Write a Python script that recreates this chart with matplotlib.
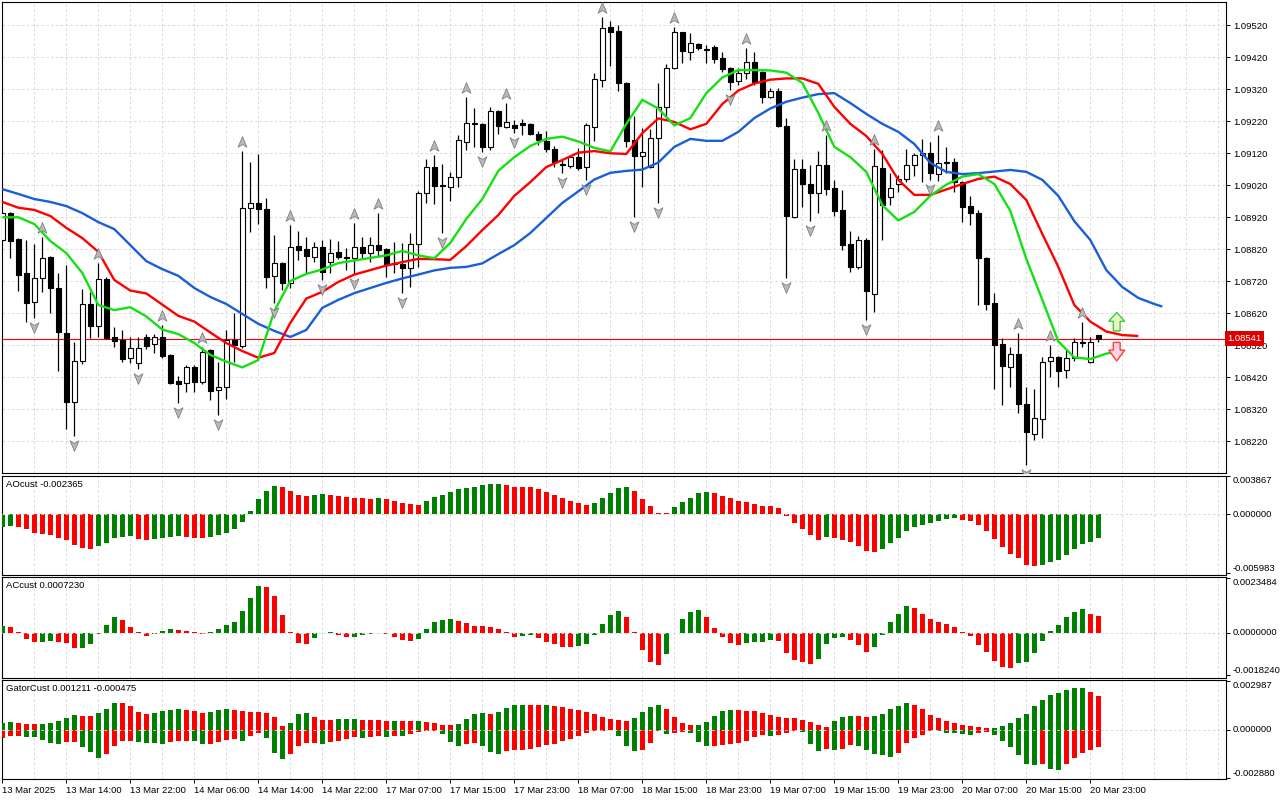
import numpy as np
import matplotlib
matplotlib.use("Agg")
import matplotlib.pyplot as plt
from matplotlib.path import Path
from matplotlib.patches import FancyArrow
from matplotlib.transforms import offset_copy, blended_transform_factory

plt.rcParams['font.family'] = ['Liberation Sans', 'DejaVu Sans']

# ---------------------------------------------------------------- data
time_labels = ['13 Mar 2025', '13 Mar 14:00', '13 Mar 22:00', '14 Mar 06:00', '14 Mar 14:00',
               '14 Mar 22:00', '17 Mar 07:00', '17 Mar 15:00', '17 Mar 23:00', '18 Mar 07:00',
               '18 Mar 15:00', '18 Mar 23:00', '19 Mar 07:00', '19 Mar 15:00', '19 Mar 23:00',
               '20 Mar 07:00', '20 Mar 15:00', '20 Mar 23:00']
label_bars = list(range(0, 137, 8))

price_ticks = [1.08220, 1.08320, 1.08420, 1.08520, 1.08620, 1.08720, 1.08820,
               1.08920, 1.09020, 1.09120, 1.09220, 1.09320, 1.09420, 1.09520]
last_price = 1.08541

open_ = [1.08849, 1.08933, 1.08852, 1.08746, 1.08655, 1.08730, 1.08796, 1.08699, 1.08558, 1.08343,
         1.08471, 1.08649, 1.08580, 1.08727, 1.08546, 1.08537, 1.08480, 1.08465, 1.08546, 1.08524,
         1.08546, 1.08490, 1.08408, 1.08402, 1.08452, 1.08405, 1.08505, 1.08380, 1.08390, 1.08537,
         1.08518, 1.08949, 1.08965, 1.08946, 1.08737, 1.08777, 1.08715, 1.08830, 1.08821, 1.08796,
         1.08827, 1.08780, 1.08812, 1.08796, 1.08793, 1.08827, 1.08808, 1.08833, 1.08821, 1.08777,
         1.08774, 1.08762, 1.08837, 1.08996, 1.09077, 1.09021, 1.09015, 1.09046, 1.09155, 1.09215,
         1.09212, 1.09140, 1.09252, 1.09202, 1.09208, 1.09215, 1.09212, 1.09180, 1.09158, 1.09133,
         1.09087, 1.09080, 1.09108, 1.09077, 1.09202, 1.09349, 1.09515, 1.09502, 1.09340, 1.09162,
         1.09112, 1.09077, 1.09168, 1.09265, 1.09387, 1.09499, 1.09437, 1.09462, 1.09446, 1.09452,
         1.09418, 1.09387, 1.09346, 1.09371, 1.09405, 1.09374, 1.09296, 1.09315, 1.09205, 1.08921,
         1.09071, 1.09024, 1.08996, 1.09083, 1.09012, 1.08943, 1.08837, 1.08765, 1.08849, 1.08680,
         1.09074, 1.08983, 1.09024, 1.09040, 1.09083, 1.09115, 1.09121, 1.09055, 1.09090, 1.09093,
         1.09030, 1.08955, 1.08933, 1.08793, 1.08652, 1.08524, 1.08452, 1.08493, 1.08337, 1.08243,
         1.08290, 1.08471, 1.08483, 1.08443, 1.08480, 1.08530, 1.08468, 1.08551]
high = [1.08937, 1.08937, 1.08855, 1.08849, 1.08837, 1.08858, 1.08799, 1.08746, 1.08771, 1.08530,
        1.08696, 1.08687, 1.08777, 1.08733, 1.08577, 1.08568, 1.08546, 1.08546, 1.08555, 1.08555,
        1.08583, 1.08493, 1.08424, 1.08458, 1.08458, 1.08515, 1.08508, 1.08468, 1.08568, 1.08621,
        1.09127, 1.09093, 1.09118, 1.08980, 1.08865, 1.08780, 1.08896, 1.08877, 1.08858, 1.08843,
        1.08849, 1.08852, 1.08846, 1.08824, 1.08902, 1.08858, 1.08858, 1.08933, 1.08824, 1.08843,
        1.08840, 1.08871, 1.09002, 1.09102, 1.09115, 1.09087, 1.09062, 1.09177, 1.09296, 1.09262,
        1.09215, 1.09265, 1.09255, 1.09277, 1.09224, 1.09227, 1.09215, 1.09190, 1.09190, 1.09143,
        1.09102, 1.09115, 1.09137, 1.09215, 1.09371, 1.09546, 1.09533, 1.09521, 1.09343, 1.09237,
        1.09199, 1.09196, 1.09340, 1.09399, 1.09515, 1.09499, 1.09496, 1.09465, 1.09458, 1.09458,
        1.09437, 1.09390, 1.09387, 1.09449, 1.09437, 1.09377, 1.09324, 1.09324, 1.09230, 1.09102,
        1.09102, 1.09083, 1.09127, 1.09177, 1.09037, 1.09005, 1.08877, 1.08862, 1.08855, 1.09133,
        1.09130, 1.09058, 1.09052, 1.09133, 1.09121, 1.09165, 1.09155, 1.09177, 1.09140, 1.09105,
        1.09033, 1.08987, 1.08943, 1.08796, 1.08683, 1.08543, 1.08515, 1.08558, 1.08390, 1.08383,
        1.08483, 1.08521, 1.08487, 1.08508, 1.08543, 1.08593, 1.08546, 1.08551]
low = [1.08843, 1.08793, 1.08690, 1.08593, 1.08605, 1.08687, 1.08621, 1.08440, 1.08258, 1.08237,
       1.08462, 1.08543, 1.08546, 1.08540, 1.08515, 1.08468, 1.08465, 1.08446, 1.08508, 1.08496,
       1.08480, 1.08399, 1.08340, 1.08374, 1.08374, 1.08399, 1.08349, 1.08302, 1.08352, 1.08468,
       1.08512, 1.08874, 1.08899, 1.08699, 1.08652, 1.08693, 1.08699, 1.08787, 1.08746, 1.08780,
       1.08724, 1.08746, 1.08790, 1.08755, 1.08743, 1.08793, 1.08780, 1.08796, 1.08733, 1.08746,
       1.08683, 1.08702, 1.08765, 1.08965, 1.08962, 1.08871, 1.08971, 1.09015, 1.09130, 1.09140,
       1.09124, 1.09130, 1.09180, 1.09199, 1.09183, 1.09177, 1.09177, 1.09146, 1.09124, 1.09077,
       1.09058, 1.09074, 1.09068, 1.09037, 1.09158, 1.09327, 1.09393, 1.09315, 1.09140, 1.08921,
       1.09015, 1.09074, 1.08965, 1.09237, 1.09383, 1.09402, 1.09412, 1.09443, 1.09402, 1.09402,
       1.09374, 1.09318, 1.09333, 1.09352, 1.09333, 1.09277, 1.09293, 1.09202, 1.08730, 1.08918,
       1.08952, 1.08908, 1.08933, 1.08990, 1.08924, 1.08818, 1.08749, 1.08758, 1.08599, 1.08624,
       1.08849, 1.08958, 1.08999, 1.09030, 1.09049, 1.09030, 1.09037, 1.09033, 1.09058, 1.08999,
       1.08905, 1.08896, 1.08646, 1.08630, 1.08383, 1.08333, 1.08390, 1.08308, 1.08146, 1.08224,
       1.08230, 1.08421, 1.08390, 1.08418, 1.08471, 1.08515, 1.08465, 1.08530]
close = [1.08933, 1.08846, 1.08740, 1.08652, 1.08730, 1.08793, 1.08699, 1.08562, 1.08343, 1.08471,
         1.08649, 1.08580, 1.08727, 1.08543, 1.08533, 1.08477, 1.08512, 1.08512, 1.08518, 1.08546,
         1.08487, 1.08402, 1.08399, 1.08452, 1.08405, 1.08499, 1.08377, 1.08390, 1.08537, 1.08521,
         1.08949, 1.08965, 1.08946, 1.08733, 1.08777, 1.08715, 1.08827, 1.08818, 1.08799, 1.08827,
         1.08749, 1.08808, 1.08796, 1.08793, 1.08827, 1.08808, 1.08833, 1.08818, 1.08771, 1.08774,
         1.08762, 1.08837, 1.08996, 1.09077, 1.09018, 1.09018, 1.09046, 1.09162, 1.09215, 1.09212,
         1.09140, 1.09252, 1.09205, 1.09218, 1.09199, 1.09208, 1.09180, 1.09162, 1.09133, 1.09093,
         1.09083, 1.09108, 1.09074, 1.09208, 1.09352, 1.09512, 1.09499, 1.09340, 1.09158, 1.09112,
         1.09124, 1.09168, 1.09265, 1.09387, 1.09499, 1.09440, 1.09465, 1.09449, 1.09443, 1.09415,
         1.09383, 1.09343, 1.09371, 1.09405, 1.09343, 1.09296, 1.09315, 1.09205, 1.08924, 1.09071,
         1.09024, 1.08996, 1.09083, 1.09008, 1.08940, 1.08833, 1.08765, 1.08849, 1.08690, 1.09080,
         1.08958, 1.09012, 1.09040, 1.09083, 1.09115, 1.09121, 1.09058, 1.09090, 1.09093, 1.09030,
         1.08952, 1.08933, 1.08793, 1.08649, 1.08521, 1.08455, 1.08493, 1.08337, 1.08249, 1.08293,
         1.08468, 1.08483, 1.08440, 1.08480, 1.08530, 1.08527, 1.08530, 1.08541]

# Alligator lines (already shifted forward), read every second bar
jaw_bars = list(range(0, 145, 2)) + [145]
jaw = [1.09008, 1.08993, 1.08977, 1.08968, 1.08955, 1.08933, 1.08905, 1.08883, 1.08833, 1.08783,
       1.08758, 1.08737, 1.08699, 1.08671, 1.08649, 1.08618, 1.08587, 1.08565, 1.08546, 1.08568,
       1.08637, 1.08662, 1.08683, 1.08699, 1.08715, 1.08729, 1.08741, 1.08754, 1.08762, 1.08765,
       1.08776, 1.08805, 1.08833, 1.08871, 1.08918, 1.08965, 1.09001, 1.09038, 1.09059, 1.09065,
       1.09069, 1.09091, 1.09140, 1.09165, 1.09159, 1.09159, 1.09187, 1.09230, 1.09260, 1.09281,
       1.09294, 1.09305, 1.09308, 1.09277, 1.09243, 1.09212, 1.09187, 1.09149, 1.09090, 1.09062,
       1.09055, 1.09058, 1.09063, 1.09068, 1.09062, 1.09037, 1.08987, 1.08908, 1.08849, 1.08755,
       1.08702, 1.08668, 1.08649, 1.08641]
teeth_bars = list(range(0, 143, 2))
teeth = [1.08968, 1.08950, 1.08943, 1.08924, 1.08887, 1.08855, 1.08812, 1.08724, 1.08691, 1.08682,
         1.08647, 1.08612, 1.08594, 1.08560, 1.08527, 1.08502, 1.08481, 1.08496, 1.08590, 1.08666,
         1.08687, 1.08718, 1.08741, 1.08755, 1.08769, 1.08780, 1.08790, 1.08789, 1.08787, 1.08830,
         1.08880, 1.08927, 1.08987, 1.09030, 1.09077, 1.09099, 1.09122, 1.09127, 1.09120, 1.09118,
         1.09183, 1.09229, 1.09218, 1.09195, 1.09212, 1.09274, 1.09316, 1.09338, 1.09350, 1.09354,
         1.09354, 1.09337, 1.09265, 1.09212, 1.09174, 1.09118, 1.09037, 1.08990, 1.08990, 1.09007,
         1.09024, 1.09040, 1.09047, 1.09024, 1.08974, 1.08868, 1.08765, 1.08646, 1.08594, 1.08563,
         1.08552, 1.08549]
lips_bars = list(range(0, 141, 2))
lips = [1.08920, 1.08920, 1.08899, 1.08846, 1.08808, 1.08746, 1.08646, 1.08630, 1.08639, 1.08610,
        1.08569, 1.08555, 1.08527, 1.08490, 1.08469, 1.08451, 1.08474, 1.08627, 1.08721, 1.08743,
        1.08757, 1.08777, 1.08785, 1.08793, 1.08801, 1.08815, 1.08801, 1.08792, 1.08840, 1.08915,
        1.08977, 1.09065, 1.09108, 1.09143, 1.09165, 1.09172, 1.09157, 1.09137, 1.09126, 1.09212,
        1.09287, 1.09260, 1.09207, 1.09230, 1.09308, 1.09357, 1.09380, 1.09380, 1.09379, 1.09372,
        1.09340, 1.09246, 1.09140, 1.09108, 1.09062, 1.08958, 1.08910, 1.08937, 1.08987, 1.09022,
        1.09047, 1.09055, 1.09024, 1.08940, 1.08790, 1.08662, 1.08532, 1.08482, 1.08477, 1.08494,
        1.08503]

fractal_up = [5, 12, 20, 25, 30, 36, 44, 47, 54, 58, 63, 75, 84, 93, 103, 109, 117, 127, 131, 135]
fractal_down = [4, 9, 17, 22, 27, 34, 40, 44, 50, 55, 60, 64, 70, 73, 79, 82, 91, 98, 101, 108, 116, 128]

signal_bar = 139.3
buy_arrow = (1.08565, 1.08623)    # base, tip
sell_arrow = (1.08529, 1.08471)   # base, tip

# indicator values in units of 1e-5
ao_e5 = [-125, -118, -129, -152, -186, -196, -210, -237, -261, -311,
         -339, -349, -322, -288, -237, -227, -223, -247, -257, -247,
         -237, -227, -223, -230, -237, -240, -230, -210, -186, -152,
         -74, 37, 159, 237, 288, 278, 237, 196, 190, 196,
         210, 196, 183, 172, 168, 164, 160, 165, 156, 135,
         115, 105, 95, 135, 176, 196, 227, 257, 267, 278,
         298, 308, 311, 298, 280, 278, 276, 257, 227, 196,
         166, 135, 115, 95, 115, 166, 217, 267, 278, 237,
         156, 85, 14, 10, 74, 125, 166, 217, 227, 217,
         186, 166, 135, 129, 105, 85, 84, 64, -14, -85,
         -146, -206, -257, -227, -237, -257, -278, -318, -369, -379,
         -349, -288, -237, -166, -125, -105, -85, -64, -44, -34,
         -54, -64, -105, -166, -247, -328, -399, -440, -511, -521,
         -511, -481, -460, -410, -349, -298, -278, -237]
ao_colors = ("gg" "rrrrrrrrrr" "ggggg" "rr" "gggg" "rrr" "ggggggggg" "rrrr" "gg" "rrrrrr"
             "g" "rrrrr" "gggggggggg" "rrrrrrrrrrr" "ggggg" "rrrrr" "ggggg" "rrrrrrrrrrrrrr"
             "g" "rrrrrr" "gggggggggg" "rrrrrrrrrr" "gggggggg")

ac_e5 = [27, 26, 4, -26, -42, -38, -37, -39, -43, -67,
         -66, -50, -4, 34, 69, 56, 26, 4, -16, -7,
         9, 17, 13, 6, 1, -7, 4, 17, 32, 47,
         95, 151, 202, 198, 159, 77, 1, -46, -50, -22,
         0.5, 1, -11, -20, -19, -11, -4, -1, -7, -17,
         -30, -34, -26, 17, 47, 56, 60, 52, 43, 30,
         29, 26, 17, 1, -17, -16, -11, -22, -39, -47,
         -60, -61, -56, -47, -11, 39, 77, 95, 69, 1,
         -73, -125, -138, -90, -1, 60, 90, 99, 69, 22,
         -17, -43, -52, -43, -39, -38, -30, -34, -86, -116,
         -125, -133, -112, -47, -22, -17, -30, -52, -82, -60,
         -9, 47, 82, 116, 108, 82, 60, 47, 39, 26,
         4, -13, -52, -82, -120, -146, -151, -129, -125, -86,
         -34, 9, 34, 69, 90, 103, 82, 72]
ac_colors = ("g" "rrrr" "gg" "rrr" "ggggg" "rrrr" "ggg" "rrrr" "ggggggg" "rrrrrr" "ggg" "rr"
             "gggg" "rrrr" "ggggg" "rrrrrrrr" "gg" "rrrrr" "gggggg" "rrrrr" "ggggg" "rrrrr"
             "gggg" "rrrrr" "gggg" "rrr" "ggggg" "rrrrrrrrrrrrr" "ggggggggg" "rr")

gator_upper_e5 = [40, 48, 42, 36, 35, 37, 42, 54, 73, 91,
                  85, 84, 103, 127, 163, 162, 145, 109, 97, 103,
                  115, 121, 127, 121, 115, 103, 109, 121, 127, 121,
                  115, 109, 108, 103, 79, 24, 42, 97, 103, 79,
                  60, 59, 67, 67, 67, 60, 60, 60, 54, 55,
                  54, 54, 55, 48, 42, 30, 30, 36, 67, 97,
                  103, 97, 109, 133, 151, 152, 151, 150, 151, 145,
                  139, 127, 121, 109, 97, 79, 67, 60, 54, 73,
                  109, 139, 151, 127, 79, 42, 30, 31, 48, 85,
                  115, 121, 121, 115, 115, 103, 91, 79, 73, 72,
                  60, 48, 30, 18, 54, 79, 85, 84, 79, 85,
                  97, 127, 145, 163, 151, 127, 91, 73, 54, 42,
                  30, 24, 18, 12, 13, 24, 42, 73, 97, 145,
                  181, 212, 224, 242, 254, 256, 230, 208]
gator_upper_colors = ("gg" "rrr" "ggggg" "rr" "ggg" "rrrr" "gggg" "rrr" "ggg" "rrrrrrr" "ggg"
                      "rrr" "ggg" "rrrr" "g" "rr" "g" "rrrr" "gggg" "r" "gggg" "rr" "g"
                      "rrrrrrrrrr" "gggg" "rrrr" "ggggg" "rrrrrrrrrrrr" "ggg" "rr" "ggggg"
                      "rrrrrrrrrr" "gggggggggggg" "rr")
gator_lower_e5 = [-50, -34, -34, -40, -40, -60, -81, -87, -75, -71,
                  -101, -131, -167, -143, -95, -65, -64, -71, -81, -81,
                  -82, -75, -65, -64, -65, -87, -86, -75, -60, -54,
                  -65, -36, -16, -50, -137, -173, -143, -95, -77, -76,
                  -83, -71, -65, -56, -44, -46, -40, -34, -40, -34,
                  -35, -22, -10, -4, -4, -22, -71, -95, -83, -77,
                  -95, -131, -143, -125, -119, -118, -117, -101, -89, -83,
                  -65, -52, -34, -16, -4, -4, -3, -34, -95, -125,
                  -119, -77, -4, -22, -16, -10, -16, -71, -95, -94,
                  -93, -83, -77, -65, -40, -28, -34, -33, -16, -4,
                  -10, -83, -125, -113, -119, -113, -89, -95, -119, -143,
                  -149, -161, -137, -77, -46, -28, -4, -5, -16, -17,
                  -22, -28, -16, -10, -28, -65, -101, -149, -204, -210,
                  -204, -234, -240, -204, -167, -137, -119, -101]
gator_lower_colors = ("rrr" "ggggg" "rr" "ggg" "rrrr" "gggg" "rrr" "gg" "rrrr" "g" "rr" "ggg"
                      "rrrr" "g" "rrrr" "g" "rr" "g" "r" "g" "rrrr" "ggg" "rr" "ggg"
                      "rrrrrrrrrrrrrr" "ggg" "rrr" "g" "rr" "ggg" "rrrrrrr" "g" "rrr" "ggg"
                      "r" "g" "rr" "ggggg" "rrrrr" "ggggg" "rr" "gggggg" "r" "gg" "rrrrr")

ao_ticks = [-0.005983, 0.0, 0.003867]
ao_tick_labels = ['-0.005983', '0.000000', '0.003867']
ac_ticks = [-0.0018240, 0.0, 0.0023484]
ac_tick_labels = ['-0.0018240', '0.0000000', '0.0023484']
gator_ticks = [-0.002880, 0.0, 0.002987]
gator_tick_labels = ['-0.002880', '0.000000', '0.002987']

# ---------------------------------------------------------------- figure
o, h, l, c = (np.array(v) for v in (open_, high, low, close))
n = len(c)
idx = np.arange(n)
COL = {'g': '#008000', 'r': '#ff0000'}

fig = plt.figure(figsize=(12.8, 8.0), dpi=100)
fig.patch.set_facecolor('white')
LEFT, WIDTH = 2 / 1280, 1224 / 1280


def panel(top_px, bottom_px):
    return fig.add_axes([LEFT, 1 - bottom_px / 800, WIDTH, (bottom_px - top_px) / 800])


ax = panel(2, 473)
ax_ao = panel(475.5, 575)
ax_ac = panel(577, 677.5)
ax_g = panel(679.5, 779)

GRID = dict(color='#d9d9d9', lw=0.7, ls=(0, (2.5, 2.5)))
FS = 6.8
for a in (ax, ax_ao, ax_ac, ax_g):
    a.set_xlim(-0.04, 152.96)
    for gx in range(0, 153, 4):
        a.axvline(gx, zorder=0, **GRID)
    a.yaxis.tick_right()
    a.tick_params(axis='y', direction='out', length=3, width=0.7, pad=2,
                  labelsize=FS, colors='black')
    a.tick_params(axis='x', bottom=False, labelbottom=False)
    for s in a.spines.values():
        s.set_color('black')
        s.set_linewidth(0.8)
    a.set_facecolor('white')

# ---- main price panel
ax.set_ylim(1.081209, 1.095928)
for p in price_ticks:
    ax.axhline(p, zorder=0, **GRID)
ax.set_yticks(price_ticks)
ax.set_yticklabels([f'{p:.5f}' for p in price_ticks])
ax.axhline(last_price, color='#ff0000', lw=0.8, zorder=2)

ax.vlines(idx, l, h, color='black', lw=0.9, zorder=3)
bull = c >= o
ax.bar(idx, np.abs(c - o), bottom=np.minimum(o, c), width=0.62,
       color=np.where(bull, 'white', 'black'), edgecolor='black', linewidth=0.8, zorder=4)

ax.plot(jaw_bars, jaw, color='#1a5fd6', lw=1.7, zorder=5, solid_capstyle='butt')
ax.plot(teeth_bars, teeth, color='#ff0000', lw=1.7, zorder=5, solid_capstyle='butt')
ax.plot(lips_bars, lips, color='#14e014', lw=1.7, zorder=5, solid_capstyle='butt')

codes = [Path.MOVETO, Path.LINETO, Path.LINETO, Path.LINETO, Path.CLOSEPOLY]
up_marker = Path([(0, 1), (0.75, -0.8), (0, -0.35), (-0.75, -0.8), (0, 1)], codes)
dn_marker = Path([(0, -1), (0.75, 0.8), (0, 0.35), (-0.75, 0.8), (0, -1)], codes)
tr_up = offset_copy(ax.transData, fig=fig, x=0, y=6.5, units='points')
tr_dn = offset_copy(ax.transData, fig=fig, x=0, y=-6.5, units='points')
ax.plot(fractal_up, h[fractal_up], ls='none', marker=up_marker, ms=8.5,
        mfc='#b9b9b9', mec='#7f7f7f', mew=0.6, transform=tr_up, zorder=6)
ax.plot(fractal_down, l[fractal_down], ls='none', marker=dn_marker, ms=8.5,
        mfc='#b9b9b9', mec='#7f7f7f', mew=0.6, transform=tr_dn, zorder=6)

ax.add_patch(FancyArrow(signal_bar, buy_arrow[0], 0, buy_arrow[1] - buy_arrow[0],
                        width=0.85, head_width=2.0, head_length=0.00028,
                        length_includes_head=True, fc='#e6f6c2', ec='#3dcc3d', lw=1.0, zorder=7))
ax.add_patch(FancyArrow(signal_bar, sell_arrow[0], 0, sell_arrow[1] - sell_arrow[0],
                        width=0.85, head_width=2.0, head_length=0.00034,
                        length_includes_head=True, fc='#ffd6e0', ec='#ff3b3b', lw=1.0, zorder=7))

trans = blended_transform_factory(ax.transAxes, ax.transData)
ax.text(1.0012, last_price, f'{last_price:.5f}', transform=trans, ha='left', va='center',
        fontsize=FS, color='white', zorder=10, clip_on=False,
        bbox=dict(boxstyle='square,pad=0.28', fc='#dd0000', ec='none'))


# ---- indicator panels
def indicator(a, ylim, ticks, tick_labels, title):
    a.set_ylim(*ylim)
    a.axhline(0, zorder=4, **GRID)
    a.set_yticks(ticks)
    a.set_yticklabels(tick_labels)
    for t, va in zip(a.get_yticklabels(), ['bottom', 'center', 'top']):
        t.set_va(va)
    a.annotate(title, xy=(0, 1), xycoords='axes fraction', xytext=(3, -3),
               textcoords='offset points', ha='left', va='top', fontsize=FS, zorder=10)


ax_ao.bar(idx, np.array(ao_e5) * 1e-5, width=0.55,
          color=[COL[k] for k in ao_colors], lw=0, zorder=3)
indicator(ax_ao, (-0.006152, 0.003933), ao_ticks, ao_tick_labels, 'AOcust -0.002365')

ax_ac.bar(idx, np.array(ac_e5) * 1e-5, width=0.55,
          color=[COL[k] for k in ac_colors], lw=0, zorder=3)
indicator(ax_ac, (-0.001927, 0.002396), ac_ticks, ac_tick_labels, 'ACcust 0.0007230')

ax_g.bar(idx, np.array(gator_upper_e5) * 1e-5, width=0.55,
         color=[COL[k] for k in gator_upper_colors], lw=0, zorder=3)
ax_g.bar(idx, np.array(gator_lower_e5) * 1e-5, width=0.55,
         color=[COL[k] for k in gator_lower_colors], lw=0, zorder=3)
indicator(ax_g, (-0.002964, 0.003054), gator_ticks, gator_tick_labels,
          'GatorCust 0.001211 -0.000475')

ax_g.set_xticks(label_bars)
ax_g.set_xticklabels(time_labels)
ax_g.tick_params(axis='x', bottom=True, labelbottom=True, length=3, width=0.7,
                 pad=2, direction='out', labelsize=FS)
for t in ax_g.get_xticklabels():
    t.set_ha('left')

fig.savefig('out.png', dpi=100, facecolor='white')
